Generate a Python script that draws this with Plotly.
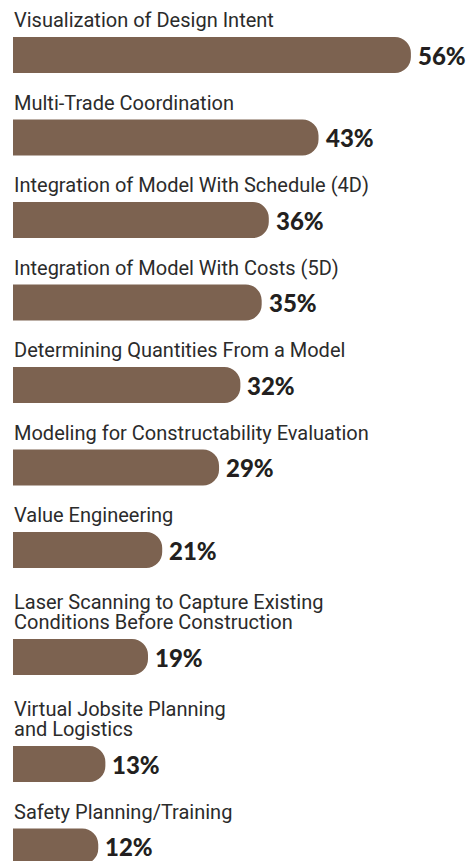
import plotly.graph_objects as go

# BIM uses, share of respondents (%)
labels = [
    "Visualization of Design Intent",
    "Multi-Trade Coordination",
    "Integration of Model With Schedule (4D)",
    "Integration of Model With Costs (5D)",
    "Determining Quantities From a Model",
    "Modeling for Constructability Evaluation",
    "Value Engineering",
    "Laser Scanning to Capture Existing\nConditions Before Construction",
    "Virtual Jobsite Planning\nand Logistics",
    "Safety Planning/Training",
]
values = [56, 43, 36, 35, 32, 29, 21, 19, 13, 12]

BAR_COLOR = "#7c6250"
TEXT_COLOR = "#2b2b2b"
LABEL_FONT = "Roboto, sans-serif"
PCT_FONT = "Lato, Inter, Roboto, sans-serif"

W, H = 472, 861
BAR_H = 36
FIRST_CENTER = 55
STEP = 82.5
EXTRA_LINE = 24.5
LINE_H = 20
OVERHANG = 3  # bar starts left of axis so only right corners show rounded

# vertical layout: bar centres in pixel units (y axis reversed)
centers = []
y = FIRST_CENTER
for i, lab in enumerate(labels):
    n = len(lab.split("\n"))
    if i > 0:
        y += STEP + EXTRA_LINE * (n - 1)
    centers.append(y)

fig = go.Figure()
fig.add_trace(go.Bar(
    x=[v + OVERHANG for v in values],
    base=[-OVERHANG] * len(values),
    y=centers,
    orientation="h",
    width=BAR_H,
    marker=dict(color=BAR_COLOR, line=dict(width=0), cornerradius=16),
    hoverinfo="skip",
))

annotations = []
for lab, v, c in zip(labels, values, centers):
    lines = lab.split("\n")
    n = len(lines)
    top = c - BAR_H / 2
    for i, line in enumerate(lines):
        annotations.append(dict(
            x=0, y=top - 4 - (n - 1 - i) * LINE_H,
            xref="x", yref="y", xanchor="left", yanchor="bottom",
            text=line, showarrow=False, borderpad=0,
            font=dict(family=LABEL_FONT, size=20, color=TEXT_COLOR),
        ))
    annotations.append(dict(
        x=v, y=c, xref="x", yref="y", xanchor="left", yanchor="middle",
        xshift=5, text=f"{v}%", showarrow=False,
        font=dict(family=PCT_FONT, size=24, color="#231f20", weight=900),
    ))

fig.update_layout(
    width=W, height=H,
    margin=dict(l=13, r=0, t=0, b=0),
    paper_bgcolor="white", plot_bgcolor="white",
    showlegend=False,
    xaxis=dict(range=[0, 64.6], visible=False, fixedrange=True),
    yaxis=dict(range=[H, 0], visible=False, fixedrange=True),
    annotations=annotations,
)

fig.write_html(
    "out.html",
    config={"displayModeBar": False},
    post_script="document.body.style.margin='0';",
)
